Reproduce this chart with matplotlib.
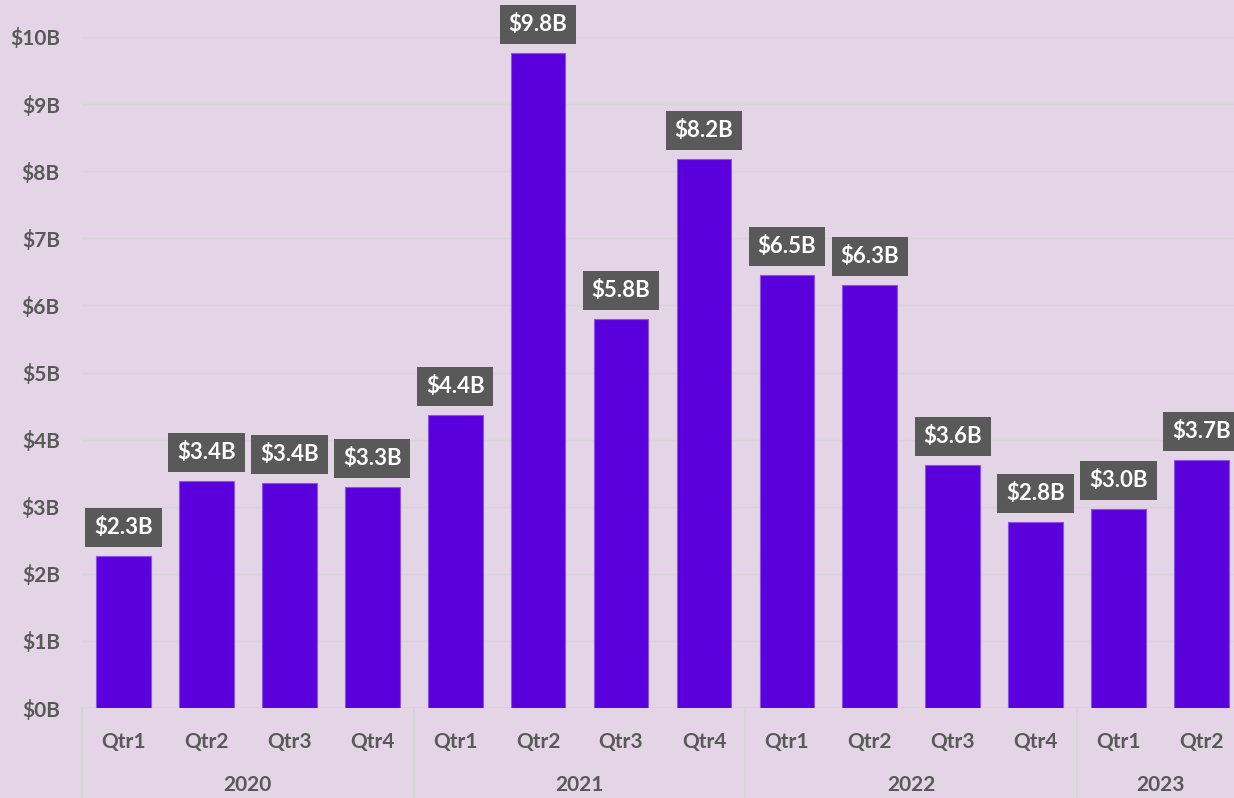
import matplotlib
matplotlib.use("Agg")
import matplotlib.pyplot as plt
import matplotlib.transforms as mtransforms
import numpy as np

quarters = ["Qtr1", "Qtr2", "Qtr3", "Qtr4", "Qtr1", "Qtr2", "Qtr3", "Qtr4",
            "Qtr1", "Qtr2", "Qtr3", "Qtr4", "Qtr1", "Qtr2"]
years = ["2020", "2021", "2022", "2023"]
year_counts = [4, 4, 4, 2]
values = [2.27, 3.38, 3.35, 3.29, 4.37, 9.76, 5.80, 8.18, 6.45, 6.30, 3.62, 2.77, 2.96, 3.70]

bg = "#E3D5E5"
bar_col = "#5A00DC"
txt_col = "#595959"
grid_col = "#D8D4D8"

plt.rcParams['font.family'] = ['Lato', 'DejaVu Sans']
plt.rcParams['font.weight'] = 'bold'

fig = plt.figure(figsize=(12.34, 7.98), dpi=100, facecolor=bg)
ax = fig.add_axes([82/1234, 90/798, (1243 - 82)/1234, (708-37)/798])
ax.set_facecolor(bg)

x = np.arange(len(values))
ax.bar(x, values, width=0.66, color=bar_col, edgecolor="#8A55E6", linewidth=0.8, zorder=3)
ax.set_xlim(-0.5, len(values) - 0.5)
ax.set_ylim(0, 10)

ax.set_yticks(range(0, 11))
ax.set_yticklabels(["$%dB" % v for v in range(0, 11)], fontsize=15, color=txt_col, fontweight='bold')
ax.grid(axis='y', color=grid_col, linewidth=1, zorder=0)
ax.tick_params(axis='y', length=0, pad=16)
ax.tick_params(axis='x', length=0, pad=17)
ax.set_xticks(x)
ax.set_xticklabels(quarters, fontsize=15, color=txt_col, fontweight='bold')

for s in ax.spines.values():
    s.set_visible(False)
ax.axhline(0, color=grid_col, linewidth=1.2, zorder=2)

for xi, v in zip(x, values):
    ax.annotate("$%.1fB" % v, (xi, v), xytext=(0, 13), textcoords='offset points',
                ha='center', va='bottom', fontsize=16, color='white', fontweight='bold',
                bbox=dict(boxstyle='square,pad=0.4', facecolor=txt_col, edgecolor='none'),
                annotation_clip=False, zorder=4)

# year grouping below the axis
trans = mtransforms.blended_transform_factory(ax.transData, ax.transAxes)
bottom = -90 / (708 - 37)
start = -0.5
ax.plot([start, start], [0, bottom], transform=trans, color=grid_col, linewidth=1.2, clip_on=False)
for yr, n in zip(years, year_counts):
    end = start + n
    if end < len(values) - 0.5:
        ax.plot([end, end], [0, bottom], transform=trans, color=grid_col, linewidth=1.2, clip_on=False)
    ax.text((start + end) / 2, -77 / (708 - 37), yr, transform=trans, ha='center', va='center',
            fontsize=15, color=txt_col, fontweight='bold')
    start = end

fig.savefig("out.png", dpi=100, facecolor=bg)
